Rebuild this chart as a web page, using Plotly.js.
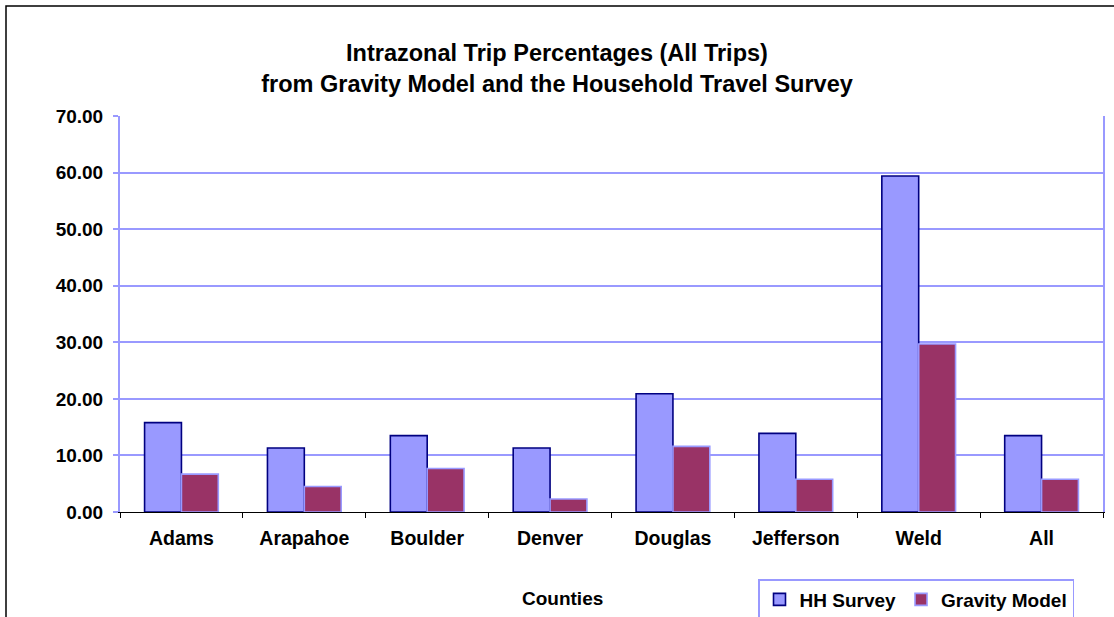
<!DOCTYPE html>
<html>
<head>
<meta charset="utf-8">
<script src="https://cdn.plot.ly/plotly-3.0.1.min.js"></script>
<style>
  html, body { margin: 0; padding: 0; background: #ffffff; }
  #chart { width: 1114px; height: 617px; }
</style>
</head>
<body>
<div id="chart"></div>
<script>
// ---- Data ----
const categories = ['Adams', 'Arapahoe', 'Boulder', 'Denver', 'Douglas', 'Jefferson', 'Weld', 'All'];
const hhSurvey = [15.8, 11.3, 13.5, 11.3, 20.9, 13.9, 59.4, 13.5];
const gravityModel = [6.7, 4.5, 7.7, 2.3, 11.6, 5.8, 29.7, 5.8];
const seriesNames = ['HH Survey', 'Gravity Model'];
const yTickValues = [0, 10, 20, 30, 40, 50, 60, 70];
const titleLines = ['Intrazonal Trip Percentages (All Trips)', 'from Gravity Model and the Household Travel Survey'];
const xAxisTitle = 'Counties';

// ---- Layout geometry ----
const W = 1114, H = 617;
const M = { l: 120, r: 11, t: 116, b: 105, autoexpand: false };
const plotW = W - M.l - M.r;
const plotH = H - M.t - M.b;
const px2x = px => (px - M.l) / plotW;
const py2y = py => (H - M.b - py) / plotH;

const FONT = 'Liberation Sans, Arial, Helvetica, sans-serif';
const GRID = '#9999FF';

const traces = [
  {
    type: 'bar',
    name: seriesNames[0],
    x: categories,
    y: hhSurvey,
    marker: { color: '#9999FF', line: { color: '#000080', width: 1.6 } }
  },
  {
    type: 'bar',
    name: seriesNames[1],
    x: categories,
    y: gravityModel,
    marker: { color: '#993366', line: { color: '#9999FF', width: 1.6 } }
  }
];

const layout = {
  width: W,
  height: H,
  margin: M,
  paper_bgcolor: '#ffffff',
  plot_bgcolor: '#ffffff',
  font: { family: FONT, size: 19, color: '#000000', weight: 'bold' },
  barmode: 'group',
  bargap: 0.4,
  bargroupgap: 0,
  title: {
    text: titleLines.join('<br>'),
    font: { family: FONT, size: 23.5, color: '#000000', weight: 'bold' },
    xref: 'container',
    x: 0.5,
    xanchor: 'center',
    yref: 'container',
    y: 1 - 61 / H,
    yanchor: 'top'
  },
  xaxis: {
    type: 'category',
    showline: true,
    linecolor: '#000000',
    linewidth: 1,
    ticks: 'outside',
    tickson: 'boundaries',
    ticklen: 5,
    tickcolor: '#000000',
    tickwidth: 1,
    showgrid: false,
    zeroline: false,
    ticklabelstandoff: 9,
    tickfont: { family: FONT, size: 19.5, color: '#000000', weight: 'bold' },
    fixedrange: true
  },
  yaxis: {
    range: [0, 70],
    tickvals: yTickValues,
    tickformat: '.2f',
    showline: true,
    mirror: true,
    linecolor: GRID,
    linewidth: 2,
    ticks: 'outside',
    ticklen: 5,
    tickcolor: GRID,
    tickwidth: 2,
    showgrid: true,
    gridcolor: GRID,
    gridwidth: 2,
    zeroline: false,
    ticklabelstandoff: 6,
    tickfont: { family: FONT, size: 19, color: '#000000', weight: 'bold' },
    fixedrange: true
  },
  showlegend: true,
  legend: {
    orientation: 'h',
    xref: 'paper',
    yref: 'paper',
    x: px2x(758),
    xanchor: 'left',
    y: py2y(579),
    yanchor: 'top',
    bgcolor: '#ffffff',
    bordercolor: GRID,
    borderwidth: 1.5,
    font: { family: FONT, size: 19, color: '#000000', weight: 'bold' },
    traceorder: 'normal'
  },
  annotations: [
    {
      text: xAxisTitle,
      xref: 'paper',
      yref: 'paper',
      x: px2x(562),
      y: py2y(598),
      xanchor: 'center',
      yanchor: 'middle',
      showarrow: false,
      font: { family: FONT, size: 19, color: '#000000', weight: 'bold' }
    }
  ],
  shapes: [
    {
      type: 'rect',
      xref: 'paper',
      yref: 'paper',
      x0: px2x(6),
      x1: px2x(W + 10),
      y0: py2y(H + 10),
      y1: py2y(6),
      line: { color: '#000000', width: 1.5 },
      fillcolor: 'rgba(0,0,0,0)',
      layer: 'below'
    }
  ]
};

Plotly.newPlot('chart', traces, layout, { displayModeBar: false, staticPlot: true });
</script>
</body>
</html>
